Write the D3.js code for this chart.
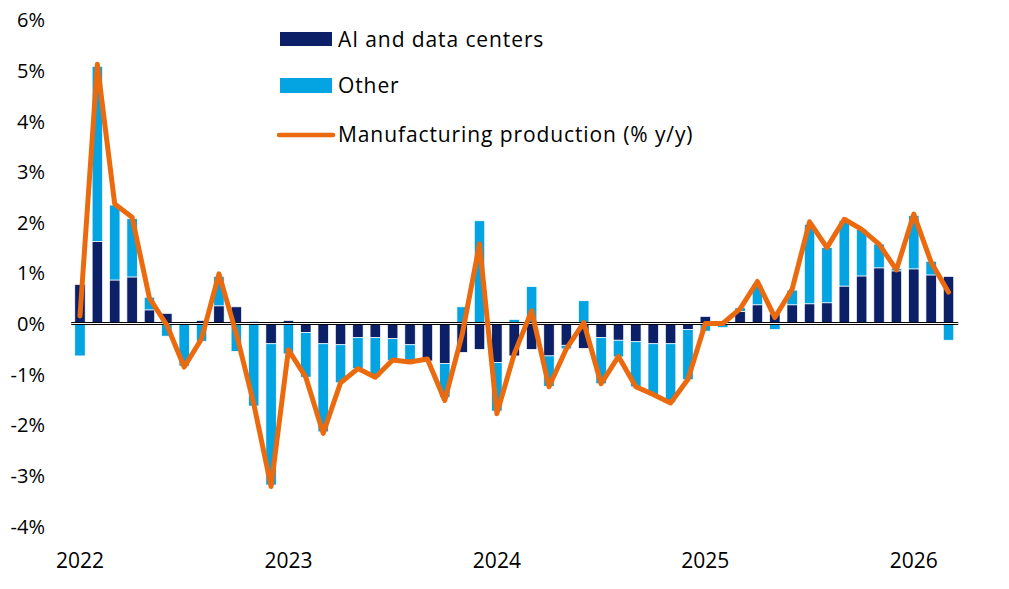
<!DOCTYPE html>
<html>
<head>
<meta charset="utf-8">
<script src="https://cdn.jsdelivr.net/npm/d3@7"></script>
<style>
  html, body { margin: 0; padding: 0; background: #fff; }
  svg { display: block; }
  text { font-family: "Open Sans", "DejaVu Sans", sans-serif; fill: #000; }
</style>
</head>
<body>
<svg id="chart" width="1009" height="589"></svg>
<script>
// ---- Data ----
const months = [
  "2022-01","2022-02","2022-03","2022-04","2022-05","2022-06","2022-07","2022-08","2022-09","2022-10","2022-11","2022-12",
  "2023-01","2023-02","2023-03","2023-04","2023-05","2023-06","2023-07","2023-08","2023-09","2023-10","2023-11","2023-12",
  "2024-01","2024-02","2024-03","2024-04","2024-05","2024-06","2024-07","2024-08","2024-09","2024-10","2024-11","2024-12",
  "2025-01","2025-02","2025-03","2025-04","2025-05","2025-06","2025-07","2025-08","2025-09","2025-10","2025-11","2025-12",
  "2026-01","2026-02","2026-03"
];
const aiDataCenters = [
  0.77, 1.62, 0.86, 0.92, 0.27, 0.20, 0.00, 0.06, 0.35, 0.33, 0.04, -0.40,
  0.06, -0.18, -0.40, -0.42, -0.28, -0.28, -0.30, -0.42, -0.74, -0.79, -0.57, -0.51,
  -0.77, -0.64, -0.51, -0.64, -0.43, -0.49, -0.28, -0.33, -0.36, -0.40, -0.40, -0.12,
  0.14, 0.02, 0.24, 0.37, 0.19, 0.37, 0.39, 0.41, 0.74, 0.94, 1.10, 1.04,
  1.08, 0.96, 0.93
];
const other = [
  -0.64, 3.46, 1.48, 1.15, 0.25, -0.25, -0.84, -0.35, 0.58, -0.55, -1.63, -2.79,
  -0.60, -0.88, -1.74, -0.75, -0.61, -0.78, -0.43, -0.34, 0.00, -0.67, 0.33, 2.03,
  -0.96, 0.08, 0.73, -0.60, -0.07, 0.45, -0.91, -0.33, -0.89, -1.02, -1.16, -0.99,
  -0.15, -0.08, 0.07, 0.40, -0.12, 0.29, 1.57, 1.09, 1.29, 0.92, 0.47, 0.05,
  1.05, 0.27, -0.33
];
const manufacturing = [
  0.15, 5.12, 2.36, 2.10, 0.50, -0.03, -0.86, -0.30, 0.98, -0.20, -1.58, -3.22,
  -0.52, -1.06, -2.17, -1.17, -0.89, -1.06, -0.72, -0.76, -0.70, -1.52, -0.22, 1.57,
  -1.78, -0.60, 0.25, -1.25, -0.50, 0.02, -1.19, -0.65, -1.25, -1.40, -1.57, -1.10,
  0.00, 0.00, 0.29, 0.83, 0.12, 0.68, 2.01, 1.50, 2.06, 1.86, 1.57, 1.06,
  2.16, 1.21, 0.62
];
const yTicks = [-4, -3, -2, -1, 0, 1, 2, 3, 4, 5, 6];
const yearLabels = [
  { month: "2022-01", label: "2022" },
  { month: "2023-01", label: "2023" },
  { month: "2024-01", label: "2024" },
  { month: "2025-01", label: "2025" },
  { month: "2026-01", label: "2026" }
];
const seriesNames = ["AI and data centers", "Other", "Manufacturing production (% y/y)"];

// ---- Styles ----
const colAI = "#0b2066";
const colOther = "#04a3e2";
const colLine = "#ec6a0e";

const svg = d3.select("#chart");

const x = d3.scaleBand()
  .domain(months)
  .range([71.3, 957.2])
  .paddingInner(0.4)
  .paddingOuter(0.2);

const y = d3.scaleLinear().domain([-4, 6]).range([526, 19.8]);

// Stacked bars (positive stacks up from zero, negative stacks down)
const rows = months.map((m, i) => ({ m, ai: aiDataCenters[i], other: other[i] }));
const segs = [];
rows.forEach(r => {
  let pos = 0, neg = 0;
  [["ai", colAI], ["other", colOther]].forEach(([k, c]) => {
    const v = r[k];
    if (v >= 0) { segs.push({ m: r.m, y0: pos, y1: pos + v, c }); pos += v; }
    else { segs.push({ m: r.m, y0: neg, y1: neg + v, c }); neg += v; }
  });
});

svg.append("g").selectAll("rect")
  .data(segs.filter(s => s.y0 !== s.y1))
  .join("rect")
  .attr("x", d => x(d.m))
  .attr("width", x.bandwidth())
  .attr("y", d => y(Math.max(d.y0, d.y1)))
  .attr("height", d => Math.abs(y(d.y0) - y(d.y1)))
  .attr("fill", d => d.c)
  .attr("stroke", "#fff")
  .attr("stroke-width", 0.7);

// Zero line (double black line)
const [rx0, rx1] = x.range();
svg.append("line")
  .attr("x1", rx0).attr("x2", rx1 + 1)
  .attr("y1", y(0)).attr("y2", y(0))
  .attr("stroke", "#000").attr("stroke-width", 3);
svg.append("line")
  .attr("x1", rx0).attr("x2", rx1 + 1)
  .attr("y1", y(0)).attr("y2", y(0))
  .attr("stroke", "#fff").attr("stroke-width", 1);

// Line series
const line = d3.line()
  .x((d, i) => x(months[i]) + x.bandwidth() / 2)
  .y(d => y(d));
svg.append("path")
  .datum(manufacturing)
  .attr("d", line)
  .attr("fill", "none")
  .attr("stroke", colLine)
  .attr("stroke-width", 5)
  .attr("stroke-linejoin", "round")
  .attr("stroke-linecap", "round");

// Y axis labels
const yAxis = d3.axisLeft(y).tickValues(yTicks).tickFormat(d => d + "%").tickSize(0).tickPadding(0);
const gy = svg.append("g").attr("transform", "translate(45,0)").call(yAxis);
gy.select(".domain").remove();
gy.selectAll("text")
  .attr("font-family", '"Open Sans", sans-serif')
  .attr("font-size", 20)
  .attr("fill", "#000")
  .attr("dy", "0.35em");

// X axis labels
const xAxis = d3.axisBottom(x)
  .tickValues(yearLabels.map(d => d.month))
  .tickFormat(m => yearLabels.find(d => d.month === m).label)
  .tickSize(0).tickPadding(0);
const gx = svg.append("g").attr("transform", "translate(0,552)").call(xAxis);
gx.select(".domain").remove();
gx.selectAll("text")
  .attr("font-family", '"Open Sans", sans-serif')
  .attr("font-size", 21)
  .attr("fill", "#000")
  .attr("dy", "0.76em");

// Legend
const lg = svg.append("g").attr("font-size", 21).attr("letter-spacing", 0.9);
lg.append("rect").attr("x", 280).attr("y", 32).attr("width", 52).attr("height", 14).attr("fill", colAI);
lg.append("text").attr("x", 338).attr("y", 47).text(seriesNames[0]);
lg.append("rect").attr("x", 280).attr("y", 78).attr("width", 52).attr("height", 15).attr("fill", colOther);
lg.append("text").attr("x", 338).attr("y", 93).text(seriesNames[1]);
lg.append("line").attr("x1", 279).attr("x2", 333).attr("y1", 135).attr("y2", 135)
  .attr("stroke", colLine).attr("stroke-width", 4.5).attr("stroke-linecap", "round");
lg.append("text").attr("x", 338).attr("y", 142).text(seriesNames[2]);
</script>
</body>
</html>
